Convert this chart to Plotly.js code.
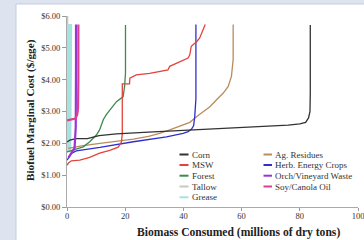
<!DOCTYPE html>
<html><head><meta charset="utf-8">
<script src="https://cdn.plot.ly/plotly-3.0.1.min.js"></script>
<style>html,body{margin:0;padding:0;background:#dde4f0;}#chart{width:364px;height:240px;}</style>
</head><body><div id="chart"></div>
<script>
// ---- data ----
var seriesNames = ["Corn","MSW","Forest","Tallow","Grease","Ag. Residues","Herb. Energy Crops","Orch/Vineyard Waste","Soy/Canola Oil"];

var cornX = [0, 1, 3, 7, 11, 17, 28, 45, 57, 68, 76, 80, 82, 83, 83.5, 83.6, 83.6];
var cornY = [2.04, 2.1, 2.15, 2.15, 2.24, 2.3, 2.35, 2.42, 2.47, 2.52, 2.57, 2.61, 2.66, 2.8, 3.0, 3.6, 5.72];

var mswX = [0, 0.5, 1.5, 4.4, 7.8, 11.2, 14.7, 17.6, 18.7, 19.0, 19.0, 21.5, 21.6, 23.8, 28.4, 34.7, 35.3, 38.7, 41.6, 42.2, 42.7, 44.6, 45.6, 47.5];
var mswY = [1.31, 1.38, 1.45, 1.47, 1.56, 1.69, 1.78, 1.88, 2.04, 2.3, 3.87, 3.87, 4.05, 4.15, 4.2, 4.31, 4.42, 4.57, 4.68, 4.78, 5.05, 5.2, 5.31, 5.73];

var forestX = [0, 3.2, 5.6, 7.8, 10.1, 11.2, 12.5, 13.5, 14.7, 16.4, 17.0, 19.3, 19.8, 20.1, 20.1];
var forestY = [1.73, 1.81, 1.89, 2.05, 2.26, 2.42, 2.75, 2.9, 3.05, 3.25, 3.31, 3.47, 3.8, 4.2, 5.72];

var tallowX = [0.1, 0.15, 0.2, 0.2];
var tallowY = [1.8, 3.0, 5.5, 6.0];

var greaseX = [0.6, 0.75, 0.85, 0.9];
var greaseY = [1.72, 2.5, 4.5, 5.75];

var agX = [0.4, 5, 11.3, 17, 22.8, 28, 31.8, 35.3, 37.6, 42.2, 44.6, 46.8, 49.1, 51.4, 53.7, 55.4, 56.5, 57.1, 57.1];
var agY = [1.84, 1.92, 2.0, 2.07, 2.13, 2.22, 2.31, 2.42, 2.5, 2.66, 2.84, 3.0, 3.15, 3.37, 3.58, 3.79, 4.1, 4.63, 5.73];

var herbX = [0, 1.5, 3.2, 11.3, 22.8, 34.2, 39.9, 41.6, 42.8, 43.5, 43.9, 44.3, 44.3];
var herbY = [1.47, 1.68, 1.76, 1.87, 2.05, 2.2, 2.31, 2.37, 2.45, 2.55, 2.84, 3.4, 5.73];

var orchX = [0.5, 1.5, 2.6, 3.0, 3.1, 3.1, 3.1];
var orchY = [1.55, 1.7, 1.85, 2.5, 3.1, 4.5, 5.73];

var soyX = [0, 1.5, 2.9, 3.5, 3.8, 3.9, 3.9];
var soyY = [2.72, 2.74, 2.78, 2.9, 3.1, 4.0, 5.73];

var yTicks = [0, 1, 2, 3, 4, 5, 6];
var xTicks = [0, 20, 40, 60, 80, 100];

// ---- styling ----
var colors = {
  "Corn":"#333333","MSW":"#e2433c","Forest":"#3d8a4e","Tallow":"#c4cabc","Grease":"#a6e3df",
  "Ag. Residues":"#b98c5c","Herb. Energy Crops":"#2f2fd0","Orch/Vineyard Waste":"#9a34d6","Soy/Canola Oil":"#dc3f8c"
};
var widths = {"Corn":1.3,"MSW":1.3,"Forest":1.3,"Tallow":1.5,"Grease":5,"Ag. Residues":1.3,"Herb. Energy Crops":1.3,"Orch/Vineyard Waste":2.2,"Soy/Canola Oil":2.2};
var dataMap = {
  "Corn":[cornX,cornY],"MSW":[mswX,mswY],"Forest":[forestX,forestY],"Tallow":[tallowX,tallowY],"Grease":[greaseX,greaseY],
  "Ag. Residues":[agX,agY],"Herb. Energy Crops":[herbX,herbY],"Orch/Vineyard Waste":[orchX,orchY],"Soy/Canola Oil":[soyX,soyY]
};
var drawOrder = ["Tallow","Grease","Ag. Residues","Herb. Energy Crops","Forest","MSW","Corn","Orch/Vineyard Waste","Soy/Canola Oil"];

var traces = drawOrder.map(function(n){
  return {x:dataMap[n][0], y:dataMap[n][1], type:'scatter', mode:'lines', name:n,
    line:{color:colors[n], width:widths[n]}, showlegend:false, hoverinfo:'skip'};
});

// pixel -> paper helpers (plot area: left 67, width 291, bottom 207, height 191)
function px(p){ return (p-67)/291; }
function py(p){ return (207-p)/191; }

var SERIF = 'Liberation Serif, Times New Roman, serif';
var annotations = [];
var shapes = [
  {type:'rect', xref:'paper', yref:'paper', x0:px(16), x1:px(380), y0:py(250), y1:py(4),
   fillcolor:'#ffffff', line:{color:'#c3cde0', width:1}, layer:'below'}
];

// legend (two columns)
var legendCols = [
  {names:["Corn","MSW","Forest","Tallow","Grease"], lx0:179.5, lx1:188.5, tx:189.5},
  {names:["Ag. Residues","Herb. Energy Crops","Orch/Vineyard Waste","Soy/Canola Oil"], lx0:263.5, lx1:272, tx:272.5}
];
var rowY = [154.5, 165, 175.7, 186.5, 197.3];
legendCols.forEach(function(c){
  c.names.forEach(function(n,i){
    shapes.push({type:'line', xref:'paper', yref:'paper', x0:px(c.lx0), x1:px(c.lx1), y0:py(rowY[i]), y1:py(rowY[i]),
      line:{color:colors[n], width:2}});
    annotations.push({xref:'paper', yref:'paper', x:px(c.tx), y:py(rowY[i]), xanchor:'left', yanchor:'middle',
      text:n, showarrow:false, font:{family:SERIF, size:9, color:'#333'}});
  });
});

// axis titles
annotations.push({xref:'paper', yref:'paper', x:px(238.5), y:py(232.5), xanchor:'center', yanchor:'middle',
  text:'<b>Biomass Consumed (millions of dry tons)</b>', showarrow:false, font:{family:SERIF, size:11.6, color:'#222'}});
annotations.push({xref:'paper', yref:'paper', x:px(30), y:py(110), xanchor:'center', yanchor:'middle', textangle:-90,
  text:'<b>Biofuel Marginal Cost ($/gge)</b>', showarrow:false, font:{family:SERIF, size:11.2, color:'#222'}});

var layout = {
  width:364, height:240,
  margin:{l:67, r:6, t:16, b:33, pad:0},
  paper_bgcolor:'#dde4f0', plot_bgcolor:'#ffffff',
  showlegend:false,
  xaxis:{range:[0,100], tickvals:xTicks, ticktext:xTicks.map(String), ticks:'outside', ticklen:3, tickcolor:'#999',
    showline:true, linecolor:'#aaa', linewidth:1, showgrid:false, zeroline:false, ticklabeloverflow:'allow',
    ticklabelstandoff:-2,
    tickfont:{family:SERIF, size:8.5, color:'#333'}},
  yaxis:{range:[0,6], tickvals:yTicks, tickformat:'$.2f', ticks:'outside', ticklen:4, tickcolor:'#999',
    showline:true, linecolor:'#aaa', linewidth:1, showgrid:false, zeroline:false,
    tickfont:{family:SERIF, size:8.5, color:'#333'}},
  shapes:shapes, annotations:annotations
};

Plotly.newPlot('chart', traces, layout, {staticPlot:true, displayModeBar:false});
</script></body></html>
